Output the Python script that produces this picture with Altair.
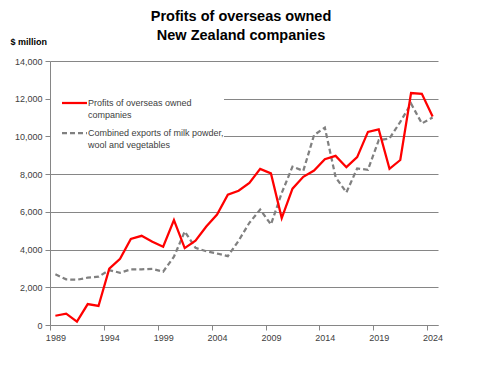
import altair as alt
import pandas as pd

years = list(range(1989, 2025))
profits = [490, 600, 175, 1110, 1010, 2990, 3510, 4560, 4730, 4420, 4150, 5560,
           4080, 4470, 5220, 5860, 6910, 7120, 7530, 8280, 8040, 5670, 7230, 7860,
           8190, 8790, 8970, 8370, 8900, 10240, 10370, 8280, 8750, 12300, 12260, 11060]
exports = [2690, 2420, 2400, 2510, 2560, 2910, 2770, 2950, 2950, 2980, 2830, 3620,
           4960, 4090, 3910, 3790, 3650, 4470, 5420, 6120, 5330, 7000, 8400, 8170,
           10070, 10470, 7840, 7030, 8300, 8230, 9800, 9890, 10770, 11740, 10690, 11000]
series_names = ["Profits of overseas owned companies",
                "Combined exports of milk powder, wool and vegetables"]
title_lines = ["Profits of overseas owned", "New Zealand companies"]
y_unit = "$ million"
x_tick_labels = [1989, 1994, 1999, 2004, 2009, 2014, 2019, 2024]
y_ticks = [0, 2000, 4000, 6000, 8000, 10000, 12000, 14000]
legend_red = ["Profits of overseas owned", "companies"]
legend_gray = ["Combined exports of milk powder,", "wool and vegetables"]

FONT = "Liberation Sans"
AX = "#868686"
LBL = "#404040"
RED = "#ff0000"
GRAY = "#808080"

df = pd.DataFrame({
    "year": years + years,
    "value": profits + exports,
    "series": [series_names[0]] * len(years) + [series_names[1]] * len(years),
})
one = pd.DataFrame({"a": [0]})

x_enc = alt.X("year:Q",
              scale=alt.Scale(domain=[1988.5, 2024.5], nice=False, zero=False),
              axis=alt.Axis(values=x_tick_labels, format="d", title=None, grid=False,
                            tickOffset=-5.39, labelOffset=5.39, tickSize=5,
                            tickColor=AX, domainColor=AX, labelFont=FONT,
                            labelFontSize=9, labelColor=LBL, labelPadding=3,
                            labelFlush=False, labelOverlap=False))
y_enc = alt.Y("value:Q",
              scale=alt.Scale(domain=[0, 14000], nice=False),
              axis=alt.Axis(values=y_ticks, format=",.0f", title=y_unit, grid=True,
                            gridColor=AX, tickColor=AX, domainColor=AX, tickSize=5,
                            labelFont=FONT, labelFontSize=9, labelColor=LBL,
                            labelPadding=3, titleAngle=0, titleAlign="left",
                            titleBaseline="alphabetic", titleX=-40, titleY=-17,
                            titleFont=FONT, titleFontSize=9, titleFontWeight="bold",
                            titleColor="#000000"))

gray_line = alt.Chart(df).transform_filter(
    alt.datum.series == series_names[1]
).mark_line(color=GRAY, strokeWidth=2.25, strokeDash=[5, 3]).encode(x=x_enc, y=y_enc)

red_line = alt.Chart(df).transform_filter(
    alt.datum.series == series_names[0]
).mark_line(color=RED, strokeWidth=2.25).encode(x=x_enc, y=y_enc)

legend_bg = alt.Chart(one).mark_rect(color="white").encode(
    x=alt.value(1), x2=alt.value(174), y=alt.value(26), y2=alt.value(92))
leg_red_rule = alt.Chart(one).mark_rule(color=RED, strokeWidth=2.25).encode(
    x=alt.value(12), x2=alt.value(37), y=alt.value(42))
leg_gray_rule = alt.Chart(one).mark_rule(color=GRAY, strokeWidth=2.25, strokeDash=[5, 3]).encode(
    x=alt.value(12), x2=alt.value(37), y=alt.value(72))

def txt(s, x, y, size=9, weight="normal", align="left", baseline="middle", color=LBL):
    return alt.Chart(one).mark_text(font=FONT, fontSize=size, fontWeight=weight,
                                    align=align, baseline=baseline, color=color).encode(
        x=alt.value(x), y=alt.value(y), text=alt.value(s))

layers = [gray_line, red_line, legend_bg, leg_red_rule, leg_gray_rule,
          txt(legend_red[0], 38, 42), txt(legend_red[1], 38, 54),
          txt(legend_gray[0], 38, 72), txt(legend_gray[1], 38, 84),
          txt(title_lines[0], 191, -40, size=14.5, weight="bold", align="center",
              baseline="alphabetic", color="#000000"),
          txt(title_lines[1], 191, -21, size=14.5, weight="bold", align="center",
              baseline="alphabetic", color="#000000")]

chart = alt.layer(*layers).properties(
    width=388, height=264,
    autosize=alt.AutoSizeParams(type="none"),
    padding={"left": 42, "top": 53, "right": 35, "bottom": 40},
).configure_view(stroke=None)

chart.save("out.html", embed_options={"renderer": "svg", "actions": False})
